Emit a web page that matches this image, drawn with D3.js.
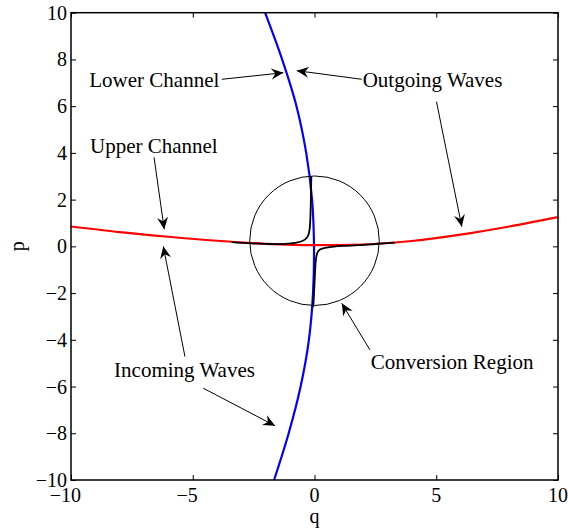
<!DOCTYPE html>
<html>
<head>
<meta charset="utf-8">
<script src="https://cdn.jsdelivr.net/npm/d3@7"></script>
<style>
  html, body { margin: 0; padding: 0; background: #fff; }
  svg text { font-family: "Liberation Serif", "Times New Roman", serif; fill: #000; }
</style>
</head>
<body>
<svg id="chart" width="568" height="529"></svg>
<script>
// ---------------- data ----------------
const qTicks = [-10, -5, 0, 5, 10];
const pTicks = [-10, -8, -6, -4, -2, 0, 2, 4, 6, 8, 10];

// Lower channel (blue): q as a function of p
const lowerP = [10, 8, 6, 4, 2, 0, -2, -4, -6, -8, -10];
const lowerQ = [-2.03, -1.33, -0.74, -0.34, -0.1, -0.02, -0.06, -0.23, -0.57, -1.06, -1.66];

// Upper channel (red): p as a function of q
const upperQ = [-10, -8, -6, -4, -2, 0, 2, 4, 6, 8, 10];
const upperP = [0.85, 0.61, 0.41, 0.24, 0.11, 0.05, 0.08, 0.23, 0.5, 0.85, 1.25];

// Exact (coupled) curves inside the conversion region (black)
const exactAQ = [-3.4, -2.6, -1.8, -1.2, -0.8, -0.5, -0.35, -0.25, -0.2, -0.17, -0.15, -0.13];
const exactAP = [0.18, 0.13, 0.1, 0.11, 0.15, 0.23, 0.33, 0.49, 0.75, 1.2, 2.0, 3.0];
const exactBQ = [-0.05, 0.0, 0.03, 0.06, 0.1, 0.16, 0.28, 0.5, 0.8, 1.2, 1.8, 2.5, 3.3];
const exactBP = [-2.6, -1.6, -0.95, -0.55, -0.33, -0.2, -0.11, -0.05, -0.01, 0.02, 0.05, 0.1, 0.16];

// Conversion region circle
const regionCenter = [0, 0.24];
const regionRadiusQ = 2.66;

// Annotations (text anchor in data coords) and arrows (tail -> tip)
const labels = [
  { text: "Lower Channel", q: -9.25, p: 6.82 },
  { text: "Outgoing Waves", q: 1.98, p: 6.83 },
  { text: "Upper Channel", q: -9.22, p: 3.98 },
  { text: "Incoming Waves", q: -8.23, p: -5.58 },
  { text: "Conversion Region", q: 2.31, p: -5.27 }
];
const arrows = [
  { q1: -3.81, p1: 7.15, q2: -1.28, p2: 7.43 },
  { q1: 1.94, p1: 7.15, q2: -0.73, p2: 7.52 },
  { q1: 5.01, p1: 6.19, q2: 6.05, p2: 0.84 },
  { q1: -6.59, p1: 3.81, q2: -6.17, p2: 0.73 },
  { q1: -5.32, p1: -4.72, q2: -6.21, p2: 0.0 },
  { q1: -4.57, p1: -6.07, q2: -1.62, p2: -7.68 },
  { q1: 2.28, p1: -4.44, q2: 1.12, p2: -2.44 }
];

// ---------------- chart ----------------
const svg = d3.select("#chart");
const L = 71, R = 558, T = 12.7, B = 480;
const x = d3.scaleLinear().domain([-10, 10]).range([L, R]);
const y = d3.scaleLinear().domain([-10, 10]).range([B, T]);

const defs = svg.append("defs");
defs.append("clipPath").attr("id", "plotclip")
  .append("rect").attr("x", L).attr("y", T).attr("width", R - L).attr("height", B - T);

// arrowhead marker
defs.append("marker")
  .attr("id", "ah").attr("viewBox", "-12 -6 14 12")
  .attr("refX", 0).attr("refY", 0)
  .attr("markerWidth", 14).attr("markerHeight", 12)
  .attr("markerUnits", "userSpaceOnUse")
  .attr("orient", "auto")
  .append("path").attr("d", "M0,0 L-12,-5.5 L-8,0 L-12,5.5 Z").attr("fill", "#000");

const plot = svg.append("g").attr("clip-path", "url(#plotclip)");

const lineQP = d3.line().x(d => x(d[0])).y(d => y(d[1])).curve(d3.curveMonotoneY);
const lineQPx = d3.line().x(d => x(d[0])).y(d => y(d[1])).curve(d3.curveCatmullRom.alpha(0.5));

plot.append("path")
  .attr("d", d3.line().x(d => x(d[0])).y(d => y(d[1])).curve(d3.curveCatmullRom.alpha(0.5))(lowerP.map((p, i) => [lowerQ[i], p])))
  .attr("fill", "none").attr("stroke", "#0000ff").attr("stroke-width", 2.2);

plot.append("path")
  .attr("d", d3.line().x(d => x(d[0])).y(d => y(d[1])).curve(d3.curveMonotoneX)(upperQ.map((q, i) => [q, upperP[i]])))
  .attr("fill", "none").attr("stroke", "#ff0000").attr("stroke-width", 2.2);

plot.append("path")
  .attr("d", lineQPx(exactAQ.map((q, i) => [q, exactAP[i]])))
  .attr("fill", "none").attr("stroke", "#000").attr("stroke-width", 1.8);
plot.append("path")
  .attr("d", lineQPx(exactBQ.map((q, i) => [q, exactBP[i]])))
  .attr("fill", "none").attr("stroke", "#000").attr("stroke-width", 1.8);

plot.append("circle")
  .attr("cx", x(regionCenter[0])).attr("cy", y(regionCenter[1]))
  .attr("r", x(regionRadiusQ) - x(0))
  .attr("fill", "none").attr("stroke", "#000").attr("stroke-width", 1);

// axes box with ticks on all sides (inward)
const tickLen = 5;
const axG = svg.append("g");
const axisBottom = d3.axisBottom(x).tickValues(qTicks).tickSizeInner(-tickLen).tickSizeOuter(0).tickFormat("");
const axisTop = d3.axisTop(x).tickValues(qTicks).tickSizeInner(-tickLen).tickSizeOuter(0).tickFormat("");
const axisLeft = d3.axisLeft(y).tickValues(pTicks).tickSizeInner(-tickLen).tickSizeOuter(0).tickFormat("");
const axisRight = d3.axisRight(y).tickValues(pTicks).tickSizeInner(-tickLen).tickSizeOuter(0).tickFormat("");
[[axisBottom, `translate(0,${B})`], [axisTop, `translate(0,${T})`],
 [axisLeft, `translate(${L},0)`], [axisRight, `translate(${R},0)`]].forEach(([a, t]) => {
  const g = axG.append("g").attr("transform", t).call(a);
  g.select(".domain").remove();
  g.selectAll("line").attr("stroke", "#000").attr("stroke-width", 1);
});
axG.append("rect").attr("x", L).attr("y", T).attr("width", R - L).attr("height", B - T)
  .attr("fill", "none").attr("stroke", "#000").attr("stroke-width", 1.5);

// tick labels
const fs = 20;
const fmt = v => (v < 0 ? "\u2212" : "") + Math.abs(v);
// x labels: digits centered on tick, minus hanging to the left
qTicks.forEach(v => {
  const digits = String(Math.abs(v));
  const t = svg.append("text").attr("x", x(v)).attr("y", B + 22)
    .attr("font-size", fs).attr("text-anchor", "middle").text(digits);
  if (v < 0) {
    const w = t.node().getComputedTextLength();
    svg.append("text").attr("x", x(v) - w / 2).attr("y", B + 22)
      .attr("font-size", fs).attr("text-anchor", "end").text("\u2212");
  }
});
pTicks.forEach(v => {
  svg.append("text").attr("x", L - 4).attr("y", y(v)).attr("dy", "0.35em")
    .attr("font-size", fs).attr("text-anchor", "end").text(fmt(v));
});

// axis labels
svg.append("text").attr("x", x(0)).attr("y", 523).attr("font-size", fs)
  .attr("text-anchor", "middle").text("q");
svg.append("text").attr("transform", `translate(24,${y(0)}) rotate(-90)`)
  .attr("font-size", fs).attr("text-anchor", "middle").text("p");

// annotations
labels.forEach(d => {
  svg.append("text").attr("x", x(d.q)).attr("y", y(d.p)).attr("font-size", 21).text(d.text);
});
arrows.forEach(d => {
  svg.append("line")
    .attr("x1", x(d.q1)).attr("y1", y(d.p1)).attr("x2", x(d.q2)).attr("y2", y(d.p2))
    .attr("stroke", "#000").attr("stroke-width", 1).attr("marker-end", "url(#ah)");
});
</script>
</body>
</html>
